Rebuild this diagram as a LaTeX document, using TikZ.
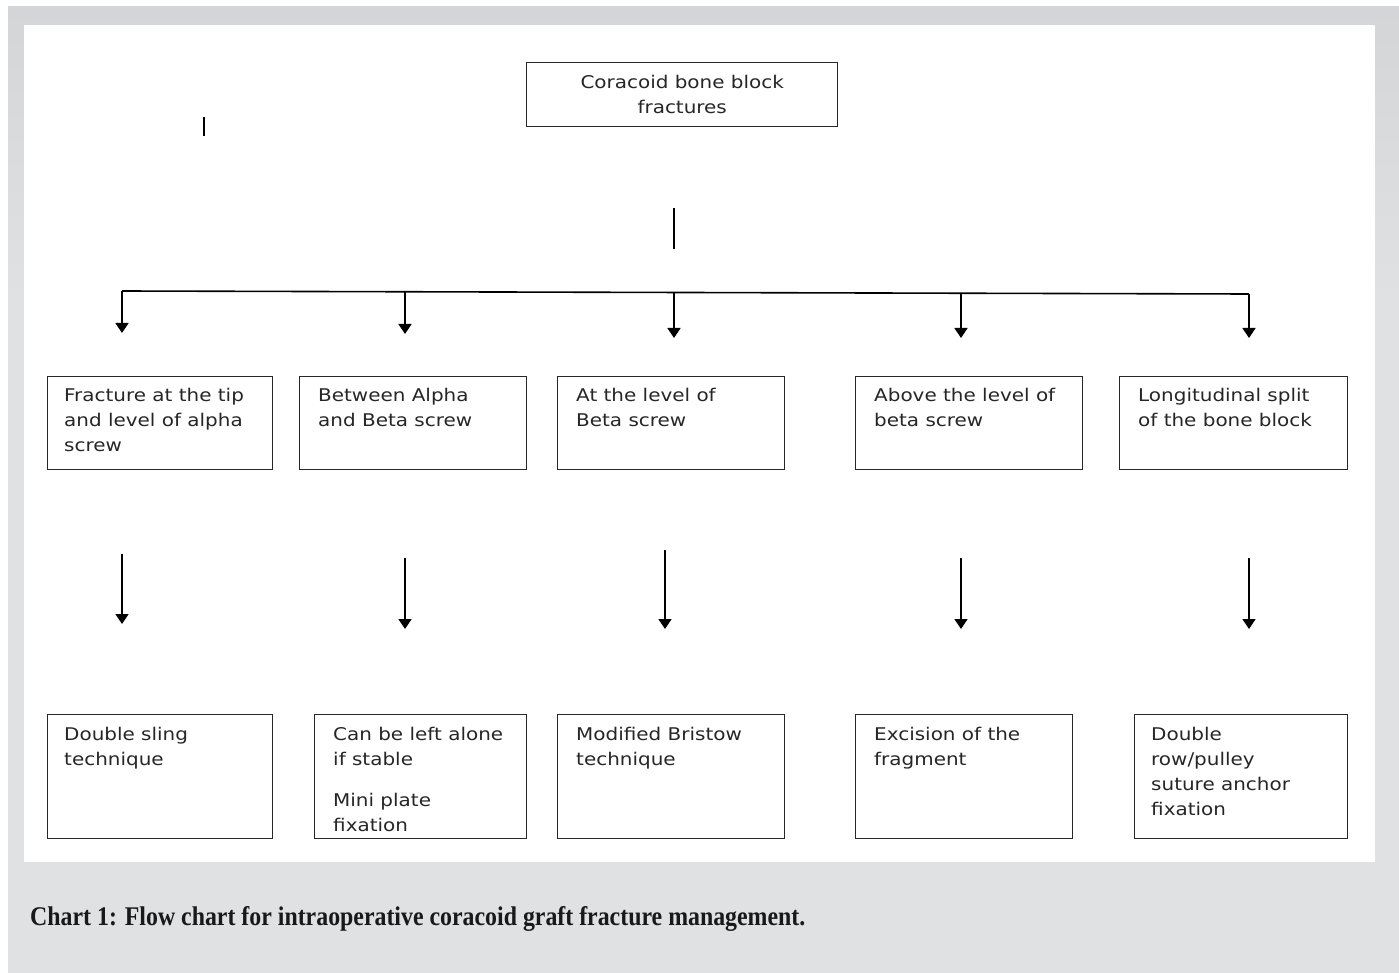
\documentclass[tikz,border=0pt]{standalone}
\usepackage{fontspec}
\setmainfont{Liberation Serif}
\newfontfamily\boxfont[FakeStretch=1.14]{DejaVu Sans}
\usetikzlibrary{arrows.meta,calc}
\definecolor{bggray}{RGB}{224,225,226}
\definecolor{bgtop}{RGB}{212,213,215}
\definecolor{boxline}{RGB}{40,40,40}
\begin{document}
\begin{tikzpicture}[x=1pt,y=-1pt,
  fbox/.style={draw=boxline,line width=1.4pt,rectangle,inner sep=0pt,anchor=north west},
  btext/.style={anchor=north west,inner sep=0pt,align=left,font=\boxfont\fontsize{17.5}{25}\selectfont,text=black!85},
  conn/.style={line width=1.6pt,black},
  arr/.style={conn,-{Triangle[width=13pt,length=10pt]}}
]
\useasboundingbox (0,0) rectangle (1399,973);
\fill[white] (0,0) rectangle (1399,973);
\shade[top color=bgtop,bottom color=bggray] (8,7) rectangle (1399,300);
\fill[bggray] (8,299) rectangle (1399,973);
\fill[white] (24,25) rectangle (1375,862);

\newcommand{\fr}{\rule{0pt}{13pt}}

% top box
\node[fbox,minimum width=311pt,minimum height=64pt] (top) at (526,62) {};
\node[anchor=north,inner sep=0pt,align=center,font=\boxfont\fontsize{17.5}{25}\selectfont,text=black!85] (toptext) at ($(top.north)+(0,13)$) {\fr Coracoid bone block\\fractures};

% stray lines
\coordinate (s1) at (204,117); \coordinate (s2) at (204,136);
\draw[conn] (s1) -- (s2);
\coordinate (v1) at (674,208); \coordinate (v2) at (674,249);
\draw[conn] (v1) -- (v2);

% horizontal distributor
\coordinate (h1) at (122,291);
\coordinate (h2) at (405,291.5);
\coordinate (h3) at (674,292);
\coordinate (h4) at (961,293);
\coordinate (h5) at (1249,294);
\draw[conn] (h1) -- (h5);
\coordinate (t1) at (122,333);
\coordinate (t2) at (405,334);
\coordinate (t3) at (674,338);
\coordinate (t4) at (961,338);
\coordinate (t5) at (1249,338);
\foreach \i in {1,...,5} \draw[arr] (h\i) -- (t\i);

% second row
\node[fbox,minimum width=225pt,minimum height=93pt] (b1) at (47,376) {};
\node[fbox,minimum width=227pt,minimum height=93pt] (b2) at (299,376) {};
\node[fbox,minimum width=227pt,minimum height=93pt] (b3) at (557,376) {};
\node[fbox,minimum width=227pt,minimum height=93pt] (b4) at (855,376) {};
\node[fbox,minimum width=228pt,minimum height=93pt] (b5) at (1119,376) {};
\node[btext] (b1t) at ($(b1.north west)+(17,12)$) {\fr Fracture at the tip\\and level of alpha\\screw};
\node[btext] (b2t) at ($(b2.north west)+(19,12)$) {\fr Between Alpha\\and Beta screw};
\node[btext] (b3t) at ($(b3.north west)+(19,12)$) {\fr At the level of\\Beta screw};
\node[btext] (b4t) at ($(b4.north west)+(19,12)$) {\fr Above the level of\\beta screw};
\node[btext] (b5t) at ($(b5.north west)+(19,12)$) {\fr Longitudinal split\\of the bone block};

% middle arrows
\coordinate (m1s) at (122,554); \coordinate (m1e) at (122,624);
\coordinate (m2s) at (405,558); \coordinate (m2e) at (405,629);
\coordinate (m3s) at (665,550); \coordinate (m3e) at (665,629);
\coordinate (m4s) at (961,558); \coordinate (m4e) at (961,629);
\coordinate (m5s) at (1249,558); \coordinate (m5e) at (1249,629);
\foreach \i in {1,...,5} \draw[arr] (m\i s) -- (m\i e);

% third row
\node[fbox,minimum width=225pt,minimum height=124pt] (c1) at (47,714) {};
\node[fbox,minimum width=212pt,minimum height=124pt] (c2) at (314,714) {};
\node[fbox,minimum width=227pt,minimum height=124pt] (c3) at (557,714) {};
\node[fbox,minimum width=217pt,minimum height=124pt] (c4) at (855,714) {};
\node[fbox,minimum width=213pt,minimum height=124pt] (c5) at (1134,714) {};
\node[btext] (c1t) at ($(c1.north west)+(17,13)$) {\fr Double sling\\technique};
\node[btext] (c2t) at ($(c2.north west)+(19,13)$) {\fr Can be left alone\\if stable\\[16pt]Mini plate\\fixation};
\node[btext] (c3t) at ($(c3.north west)+(19,13)$) {\fr Modified Bristow\\technique};
\node[btext] (c4t) at ($(c4.north west)+(19,13)$) {\fr Excision of the\\fragment};
\node[btext] (c5t) at ($(c5.north west)+(17,13)$) {\fr Double\\row/pulley\\suture anchor\\fixation};

% caption
\node[anchor=base west,inner sep=0pt,text=black!90] (cap) at (30,925)
  {\resizebox{775pt}{19pt}{\bfseries Chart 1: Flow chart for intraoperative coracoid graft fracture management.}};
\end{tikzpicture}
\end{document}
